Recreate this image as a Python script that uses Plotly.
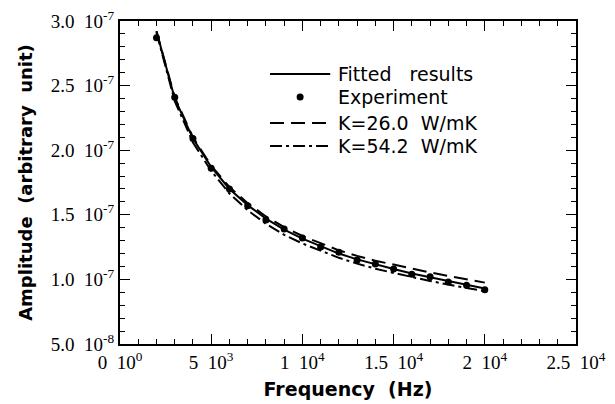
import numpy as np
import plotly.graph_objects as go

# ---- data (amplitudes in units of 1e-7) ----
freq_hz = [2000, 3000, 4000, 5000, 6000, 7000, 8000, 9000, 10000, 11000,
           12000, 13000, 14000, 15000, 16000, 17000, 18000, 19000, 20000]
experiment = [2.87, 2.41, 2.09, 1.86, 1.70, 1.57, 1.46, 1.39, 1.32, 1.25,
              1.21, 1.15, 1.12, 1.08, 1.04, 1.02, 0.98, 0.955, 0.92]
fitted = [2.92, 2.40, 2.09, 1.87, 1.70, 1.575, 1.47, 1.385, 1.315, 1.255,
          1.20, 1.155, 1.115, 1.08, 1.045, 1.015, 0.985, 0.955, 0.93]
k26 = [2.92, 2.41, 2.10, 1.88, 1.715, 1.59, 1.487, 1.404, 1.336, 1.278,
       1.225, 1.182, 1.144, 1.115, 1.082, 1.054, 1.026, 0.998, 0.975]
k54 = [2.91, 2.38, 2.06, 1.84, 1.665, 1.535, 1.43, 1.345, 1.278, 1.22,
       1.167, 1.122, 1.083, 1.05, 1.017, 0.988, 0.96, 0.932, 0.908]
scale = 1e-7

NB = "\u00a0"
x_tickvals = [0, 5000, 10000, 15000, 20000, 25000]
x_ticktext = ["0" + NB + " 10<sup>0</sup>", "5" + NB + " 10<sup>3</sup>", "1" + NB + " 10<sup>4</sup>",
              "1.5" + NB + " 10<sup>4</sup>", "2" + NB + " 10<sup>4</sup>", "2.5" + NB + " 10<sup>4</sup>"]
y_tickvals = [5e-8, 1e-7, 1.5e-7, 2e-7, 2.5e-7, 3e-7]
y_ticktext = ["5.0" + NB + " 10<sup>-8</sup>", "1.0" + NB + " 10<sup>-7</sup>", "1.5" + NB + " 10<sup>-7</sup>",
              "2.0" + NB + " 10<sup>-7</sup>", "2.5" + NB + " 10<sup>-7</sup>", "3.0" + NB + " 10<sup>-7</sup>"]

legend_labels = ["Fitted" + NB + NB + " results", "Experiment",
                 "K=26.0" + NB + " W/mK", "K=54.2" + NB + " W/mK"]

ya = lambda v: np.array(v) * scale

fig = go.Figure()
fig.add_trace(go.Scatter(x=freq_hz, y=ya(k26), mode="lines",
                         line=dict(color="black", width=2, dash="14px,7px"),
                         name=legend_labels[2]))
fig.add_trace(go.Scatter(x=freq_hz, y=ya(k54), mode="lines",
                         line=dict(color="black", width=2, dash="12px,4px,3px,4px"),
                         name=legend_labels[3]))
fig.add_trace(go.Scatter(x=freq_hz, y=ya(fitted), mode="lines",
                         line=dict(color="black", width=2),
                         name=legend_labels[0]))
fig.add_trace(go.Scatter(x=freq_hz, y=ya(experiment), mode="markers",
                         marker=dict(color="black", size=7),
                         name=legend_labels[1]))

# ---- custom legend (paper coordinates) ----
row_y = [0.836, 0.765, 0.684, 0.613]
x0, x1, xt = 0.329, 0.461, 0.474
dashes = ["solid", None, "14px,7px", "12px,4px,3px,4px"]
for i, lab in enumerate(legend_labels):
    if dashes[i] is None:
        fig.add_shape(type="circle", xref="paper", yref="paper",
                      xsizemode="pixel", ysizemode="pixel",
                      xanchor=(x0 + x1) / 2, yanchor=row_y[i],
                      x0=-3.5, x1=3.5, y0=-3.5, y1=3.5,
                      fillcolor="black", line=dict(color="black", width=0))
    else:
        fig.add_shape(type="line", xref="paper", yref="paper",
                      x0=x0, x1=x1, y0=row_y[i], y1=row_y[i],
                      line=dict(color="black", width=2, dash=dashes[i]))
    fig.add_annotation(xref="paper", yref="paper", x=xt, y=row_y[i],
                       text=lab, showarrow=False, xanchor="left", yanchor="middle",
                       font=dict(family="DejaVu Sans", size=19, color="black"))

axis_common = dict(showline=True, linecolor="black", linewidth=2, mirror="ticks",
                   ticks="inside", ticklen=10, tickwidth=1, tickcolor="black",
                   showgrid=False, zeroline=False, automargin=False,
                   ticklabeloverflow="allow",
                   tickfont=dict(family="Liberation Serif", size=19, color="black"))

fig.update_xaxes(range=[0, 25000], tickvals=x_tickvals, ticktext=x_ticktext,
                 minor=dict(ticks="inside", ticklen=5, tickwidth=1, tickcolor="black",
                            dtick=1000, tick0=0, showgrid=False),
                 title=dict(text="<b>Frequency" + NB + " (Hz)</b>", standoff=11,
                            font=dict(family="DejaVu Sans", size=19, color="black")),
                 **axis_common)
fig.update_yaxes(range=[5e-8, 3e-7], tickvals=y_tickvals, ticktext=y_ticktext,
                 minor=dict(ticks="inside", ticklen=5, tickwidth=1, tickcolor="black",
                            dtick=1e-8, tick0=0, showgrid=False),
                 title=dict(text="<b>Amplitude" + NB + " (arbitrary" + NB + " unit)</b>", standoff=14,
                            font=dict(family="DejaVu Sans", size=18, color="black")),
                 **axis_common)

# page body has an 8px margin, so the figure is drawn at (8, 8) in the window
fig.update_layout(width=607, height=396, showlegend=False,
                  margin=dict(l=112, r=39, t=13, b=60),
                  plot_bgcolor="white", paper_bgcolor="white")

fig.write_html("out.html")
